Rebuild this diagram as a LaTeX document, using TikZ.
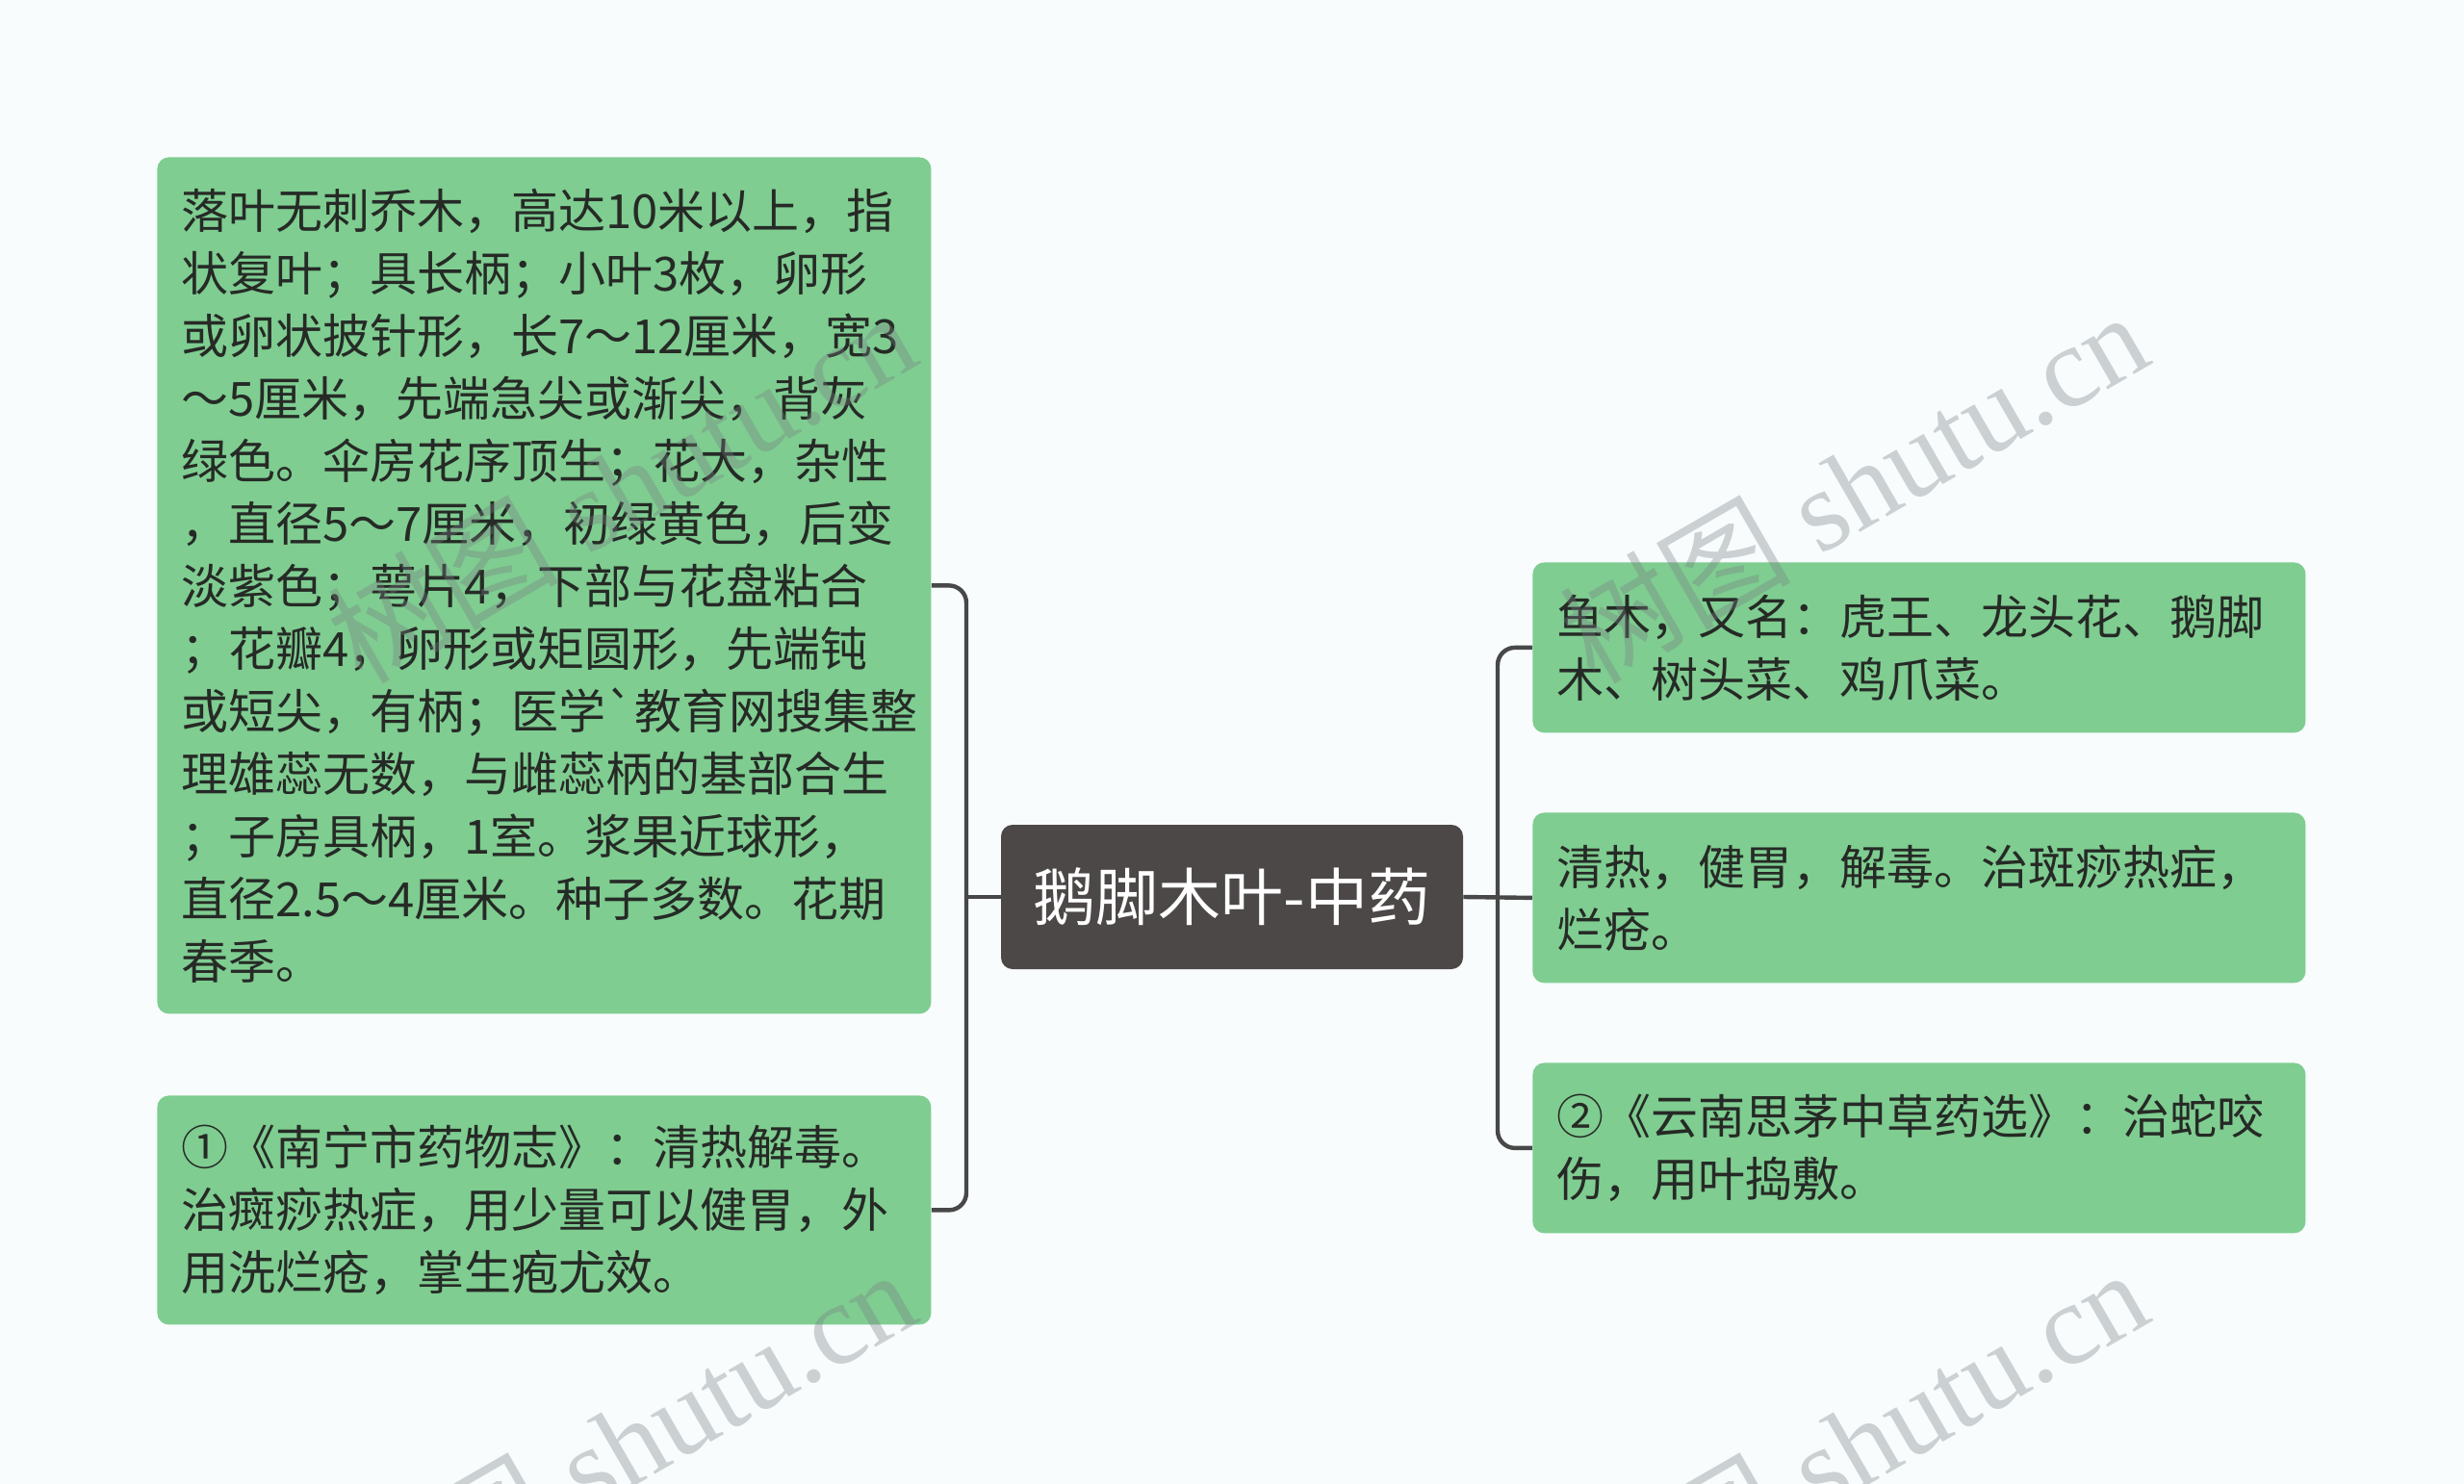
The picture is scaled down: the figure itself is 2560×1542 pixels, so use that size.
\documentclass[tikz,border=0pt]{standalone}
\usepackage{fontspec}
\usepackage{xcolor}
\usepackage{tikz}
\newfontfamily\cjk{Noto Sans CJK SC}
\newfontfamily\wmserif{Liberation Serif}
\definecolor{bgwhite}{RGB}{248,252,253}
\definecolor{lgreen}{RGB}{127,205,145}
\definecolor{dgray}{RGB}{76,72,72}
\definecolor{linegray}{RGB}{72,72,72}
\definecolor{inktext}{RGB}{38,42,38}
\definecolor{wmgray}{RGB}{120,126,130}
\pgfdeclarelayer{bglayer}
\pgfdeclarelayer{edgelayer}
\pgfdeclarelayer{nodelayer}
\pgfsetlayers{bglayer,edgelayer,nodelayer,main}
\tikzstyle{none}=[inner sep=0pt]
\tikzstyle{root}=[rectangle,rounded corners=6pt,fill=dgray,text=white,minimum width=240pt,minimum height=75pt,inner sep=0pt,font=\cjk\fontsize{32.5pt}{40pt}\selectfont]
\tikzstyle{leaf}=[rectangle,rounded corners=6pt,fill=lgreen,text=inktext,anchor=north west,align=left,inner xsep=12.5pt,inner ysep=0pt,font=\cjk\fontsize{24.5pt}{32.5pt}\selectfont]
\tikzstyle{leftleaf}=[style=leaf,text width=377pt]
\tikzstyle{rightleaf}=[style=leaf,text width=376.5pt,minimum height=88.5pt]
\tikzstyle{simple}=[-,draw=linegray,line width=2.2pt,rounded corners=9pt]
\tikzstyle{wmtext}=[rotate=30,text=wmgray,text opacity=0.35,inner sep=0pt,font=\wmserif\fontsize{60pt}{60pt}\selectfont]

\begin{document}
\begin{tikzpicture}[x=0.5pt,y=-0.5pt]
	\useasboundingbox (0,0) rectangle (2560,1542);
	\begin{pgfonlayer}{bglayer}
		\fill [bgwhite] (0,0) rectangle (2560,1542);
	\end{pgfonlayer}
	\begin{pgfonlayer}{nodelayer}
		\node [style=root] (root) at (1280,932) {鹅脚木叶-中药};
		\node [style=leftleaf, minimum height=445pt] (form) at (163,163) {落叶无刺乔木，高达10米以上，指\\状复叶；具长柄；小叶3枚，卵形\\或卵状披针形，长7～12厘米，宽3\\～5厘米，先端急尖或渐尖，背灰\\绿色。伞房花序顶生；花大，杂性\\，直径5～7厘米，初绿黄色，后变\\淡紫色；萼片4，下部与花盘粘合\\；花瓣4，卵形或矩圆形，先端钝\\或短尖，有柄；医学`教育网搜集整\\理雄蕊无数，与雌蕊柄的基部合生\\；子房具柄，1室。浆果近球形，\\直径2.5～4厘米。种子多数。花期\\春季。};
		\node [style=leftleaf, minimum height=119pt] (nanning) at (163,1138) {①《南宁市药物志》：清热解毒。\\治癍痧热症，用少量可以健胃，外\\用洗烂疮，掌生疱尤效。};
		\node [style=rightleaf] (alias) at (1592,584) {鱼木，又名：虎王、龙头花、鹅脚\\木、树头菜、鸡爪菜。};
		\node [style=rightleaf] (effect) at (1592,844) {清热，健胃，解毒。治斑痧热症，\\烂疮。};
		\node [style=rightleaf] (simao) at (1592,1104) {②《云南思茅中草药选》：治蛇咬\\伤，用叶捣敷。};
		\node [style=none] (LJ) at (1004,932) {};
		\node [style=none] (RJ) at (1556,932) {};
	\end{pgfonlayer}
	\begin{pgfonlayer}{edgelayer}
		\draw [style=simple] (form.east) -| (LJ.center) |- (nanning.east);
		\draw [style=simple] (LJ.center) -- (root.west);
		\draw [style=simple] (alias.west) -| (RJ.center) |- (simao.west);
		\draw [style=simple] (root.east) -- (effect.west);
	\end{pgfonlayer}
	\node [style=wmtext] (wmA) at (645,505) {{\cjk 树图} shutu.cn};
	\node [style=wmtext] (wmB) at (1925,505) {{\cjk 树图} shutu.cn};
	\node [style=wmtext] (wmC) at (645,1500) {{\cjk 树图} shutu.cn};
	\node [style=wmtext] (wmD) at (1925,1500) {{\cjk 树图} shutu.cn};
\end{tikzpicture}
\end{document}
